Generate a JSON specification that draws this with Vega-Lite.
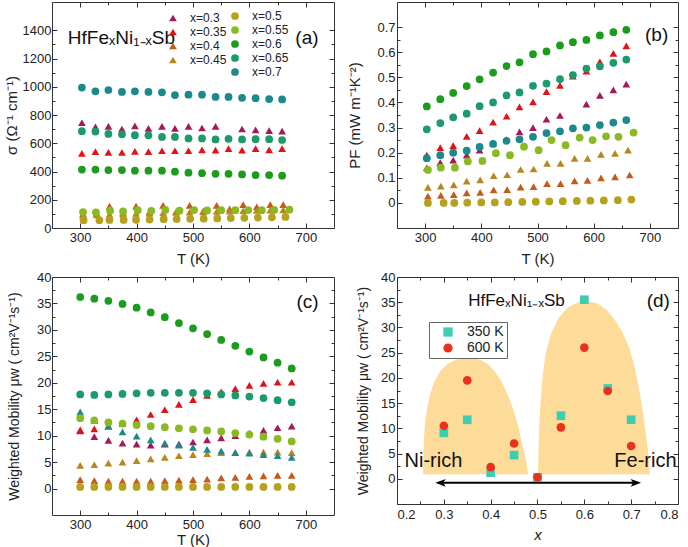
{
  "$schema": "https://vega.github.io/schema/vega-lite/v6.json",
  "padding": {"left": 3, "top": 1, "right": 0, "bottom": 0},
  "background": "white",
  "spacing": 3,
  "config": {
    "font": "Liberation Sans",
    "view": {"stroke": "#333", "strokeWidth": 1},
    "axis": {"domain": false, "grid": false, "labelFont": "Liberation Sans", "labelFontSize": 13, "labelColor": "#222", "titleFont": "Liberation Sans", "titleFontSize": 15, "titleFontWeight": "normal", "titleColor": "#222", "tickColor": "#333", "tickWidth": 1},
    "legend": {"labelFont": "Liberation Sans", "labelColor": "#222"},
    "text": {"font": "Liberation Sans", "color": "#111"}
  },
  "datasets": {
    "sig": [
      {"s":"0.3","T":303,"v":745},{"s":"0.3","T":327,"v":716},{"s":"0.3","T":350,"v":719},{"s":"0.3","T":374,"v":701},{"s":"0.3","T":397,"v":723},{"s":"0.3","T":421,"v":705},{"s":"0.3","T":445,"v":719},{"s":"0.3","T":468,"v":705},{"s":"0.3","T":492,"v":719},{"s":"0.3","T":516,"v":708},{"s":"0.3","T":540,"v":719},{"s":"0.3","T":587,"v":701},{"s":"0.3","T":611,"v":694},{"s":"0.3","T":635,"v":690},{"s":"0.3","T":658,"v":686},
      {"s":"0.35","T":303,"v":529},{"s":"0.35","T":327,"v":540},{"s":"0.35","T":350,"v":536},{"s":"0.35","T":374,"v":536},{"s":"0.35","T":397,"v":542},{"s":"0.35","T":421,"v":540},{"s":"0.35","T":445,"v":547},{"s":"0.35","T":468,"v":547},{"s":"0.35","T":492,"v":547},{"s":"0.35","T":516,"v":553},{"s":"0.35","T":540,"v":551},{"s":"0.35","T":563,"v":562},{"s":"0.35","T":587,"v":551},{"s":"0.35","T":611,"v":562},{"s":"0.35","T":635,"v":553},{"s":"0.35","T":658,"v":562},
      {"s":"0.4","T":305,"v":100},{"s":"0.4","T":329,"v":105},{"s":"0.4","T":352,"v":155},{"s":"0.4","T":376,"v":110},{"s":"0.4","T":399,"v":155},{"s":"0.4","T":423,"v":115},{"s":"0.4","T":447,"v":160},{"s":"0.4","T":470,"v":115},{"s":"0.4","T":494,"v":160},{"s":"0.4","T":518,"v":120},{"s":"0.4","T":542,"v":160},{"s":"0.4","T":565,"v":135},{"s":"0.4","T":589,"v":165},{"s":"0.4","T":613,"v":150},{"s":"0.4","T":637,"v":165},{"s":"0.4","T":660,"v":165},
      {"s":"0.45","T":305,"v":88},{"s":"0.45","T":329,"v":92},{"s":"0.45","T":352,"v":98},{"s":"0.45","T":376,"v":100},{"s":"0.45","T":399,"v":104},{"s":"0.45","T":423,"v":106},{"s":"0.45","T":447,"v":108},{"s":"0.45","T":470,"v":110},{"s":"0.45","T":494,"v":112},{"s":"0.45","T":518,"v":114},{"s":"0.45","T":542,"v":118},{"s":"0.45","T":565,"v":120},{"s":"0.45","T":589,"v":122},{"s":"0.45","T":613,"v":124},{"s":"0.45","T":637,"v":126},{"s":"0.45","T":660,"v":128},
      {"s":"0.5","T":306,"v":55},{"s":"0.5","T":334,"v":55},{"s":"0.5","T":352,"v":57},{"s":"0.5","T":377,"v":57},{"s":"0.5","T":399,"v":58},{"s":"0.5","T":423,"v":60},{"s":"0.5","T":448,"v":62},{"s":"0.5","T":471,"v":63},{"s":"0.5","T":495,"v":65},{"s":"0.5","T":519,"v":66},{"s":"0.5","T":543,"v":68},{"s":"0.5","T":567,"v":70},{"s":"0.5","T":591,"v":72},{"s":"0.5","T":615,"v":74},{"s":"0.5","T":640,"v":76},{"s":"0.5","T":664,"v":78},
      {"s":"0.55","T":305,"v":113},{"s":"0.55","T":328,"v":111},{"s":"0.55","T":353,"v":123},{"s":"0.55","T":376,"v":117},{"s":"0.55","T":402,"v":126},{"s":"0.55","T":426,"v":122},{"s":"0.55","T":451,"v":128},{"s":"0.55","T":476,"v":123},{"s":"0.55","T":502,"v":127},{"s":"0.55","T":525,"v":124},{"s":"0.55","T":550,"v":126},{"s":"0.55","T":575,"v":126},{"s":"0.55","T":598,"v":127},{"s":"0.55","T":622,"v":126},{"s":"0.55","T":644,"v":128},{"s":"0.55","T":671,"v":130},
      {"s":"0.6","T":303,"v":414},{"s":"0.6","T":327,"v":414},{"s":"0.6","T":350,"v":410},{"s":"0.6","T":374,"v":410},{"s":"0.6","T":397,"v":406},{"s":"0.6","T":421,"v":406},{"s":"0.6","T":445,"v":406},{"s":"0.6","T":468,"v":399},{"s":"0.6","T":492,"v":392},{"s":"0.6","T":516,"v":388},{"s":"0.6","T":540,"v":384},{"s":"0.6","T":563,"v":384},{"s":"0.6","T":587,"v":379},{"s":"0.6","T":611,"v":375},{"s":"0.6","T":635,"v":375},{"s":"0.6","T":658,"v":370},
      {"s":"0.65","T":303,"v":685},{"s":"0.65","T":327,"v":683},{"s":"0.65","T":350,"v":666},{"s":"0.65","T":374,"v":663},{"s":"0.65","T":397,"v":657},{"s":"0.65","T":421,"v":656},{"s":"0.65","T":445,"v":645},{"s":"0.65","T":468,"v":645},{"s":"0.65","T":492,"v":634},{"s":"0.65","T":516,"v":634},{"s":"0.65","T":540,"v":627},{"s":"0.65","T":563,"v":631},{"s":"0.65","T":587,"v":627},{"s":"0.65","T":611,"v":629},{"s":"0.65","T":635,"v":629},{"s":"0.65","T":658,"v":623},
      {"s":"0.7","T":303,"v":994},{"s":"0.7","T":327,"v":968},{"s":"0.7","T":350,"v":977},{"s":"0.7","T":374,"v":963},{"s":"0.7","T":397,"v":968},{"s":"0.7","T":421,"v":963},{"s":"0.7","T":445,"v":961},{"s":"0.7","T":468,"v":941},{"s":"0.7","T":492,"v":944},{"s":"0.7","T":516,"v":944},{"s":"0.7","T":540,"v":928},{"s":"0.7","T":563,"v":928},{"s":"0.7","T":587,"v":922},{"s":"0.7","T":611,"v":919},{"s":"0.7","T":635,"v":913},{"s":"0.7","T":658,"v":910}
    ],
    "pf": [
      {"s":"0.3","T":303,"v":0.140},{"s":"0.3","T":327,"v":0.160},{"s":"0.3","T":350,"v":0.170},{"s":"0.3","T":374,"v":0.190},{"s":"0.3","T":397,"v":0.210},{"s":"0.3","T":421,"v":0.238},{"s":"0.3","T":445,"v":0.252},{"s":"0.3","T":468,"v":0.283},{"s":"0.3","T":492,"v":0.300},{"s":"0.3","T":516,"v":0.333},{"s":"0.3","T":540,"v":0.348},{"s":"0.3","T":587,"v":0.393},{"s":"0.3","T":611,"v":0.428},{"s":"0.3","T":635,"v":0.450},{"s":"0.3","T":658,"v":0.473},
      {"s":"0.35","T":303,"v":0.190},{"s":"0.35","T":327,"v":0.220},{"s":"0.35","T":350,"v":0.228},{"s":"0.35","T":374,"v":0.265},{"s":"0.35","T":397,"v":0.288},{"s":"0.35","T":421,"v":0.322},{"s":"0.35","T":445,"v":0.345},{"s":"0.35","T":468,"v":0.382},{"s":"0.35","T":492,"v":0.402},{"s":"0.35","T":516,"v":0.443},{"s":"0.35","T":540,"v":0.468},{"s":"0.35","T":563,"v":0.505},{"s":"0.35","T":587,"v":0.525},{"s":"0.35","T":611,"v":0.562},{"s":"0.35","T":635,"v":0.595},{"s":"0.35","T":658,"v":0.625},
      {"s":"0.4","T":305,"v":0.027},{"s":"0.4","T":328,"v":0.030},{"s":"0.4","T":351,"v":0.033},{"s":"0.4","T":374,"v":0.040},{"s":"0.4","T":398,"v":0.042},{"s":"0.4","T":422,"v":0.052},{"s":"0.4","T":446,"v":0.053},{"s":"0.4","T":470,"v":0.063},{"s":"0.4","T":493,"v":0.065},{"s":"0.4","T":517,"v":0.077},{"s":"0.4","T":541,"v":0.077},{"s":"0.4","T":566,"v":0.088},{"s":"0.4","T":589,"v":0.090},{"s":"0.4","T":613,"v":0.100},{"s":"0.4","T":638,"v":0.104},{"s":"0.4","T":664,"v":0.111},
      {"s":"0.45","T":305,"v":0.062},{"s":"0.45","T":328,"v":0.067},{"s":"0.45","T":351,"v":0.072},{"s":"0.45","T":374,"v":0.087},{"s":"0.45","T":398,"v":0.092},{"s":"0.45","T":422,"v":0.108},{"s":"0.45","T":446,"v":0.112},{"s":"0.45","T":470,"v":0.133},{"s":"0.45","T":493,"v":0.135},{"s":"0.45","T":517,"v":0.157},{"s":"0.45","T":541,"v":0.157},{"s":"0.45","T":566,"v":0.177},{"s":"0.45","T":589,"v":0.177},{"s":"0.45","T":613,"v":0.193},{"s":"0.45","T":638,"v":0.197},{"s":"0.45","T":661,"v":0.210},
      {"s":"0.5","T":305,"v":0.000},{"s":"0.5","T":333,"v":0.000},{"s":"0.5","T":352,"v":0.000},{"s":"0.5","T":375,"v":0.001},{"s":"0.5","T":400,"v":0.002},{"s":"0.5","T":424,"v":0.002},{"s":"0.5","T":448,"v":0.003},{"s":"0.5","T":473,"v":0.004},{"s":"0.5","T":497,"v":0.005},{"s":"0.5","T":521,"v":0.006},{"s":"0.5","T":545,"v":0.007},{"s":"0.5","T":570,"v":0.008},{"s":"0.5","T":594,"v":0.009},{"s":"0.5","T":618,"v":0.010},{"s":"0.5","T":643,"v":0.011},{"s":"0.5","T":667,"v":0.013},
      {"s":"0.55","T":305,"v":0.131},{"s":"0.55","T":328,"v":0.140},{"s":"0.55","T":353,"v":0.140},{"s":"0.55","T":376,"v":0.165},{"s":"0.55","T":402,"v":0.167},{"s":"0.55","T":426,"v":0.198},{"s":"0.55","T":451,"v":0.190},{"s":"0.55","T":476,"v":0.224},{"s":"0.55","T":502,"v":0.210},{"s":"0.55","T":525,"v":0.250},{"s":"0.55","T":550,"v":0.230},{"s":"0.55","T":575,"v":0.260},{"s":"0.55","T":598,"v":0.250},{"s":"0.55","T":622,"v":0.265},{"s":"0.55","T":644,"v":0.263},{"s":"0.55","T":671,"v":0.280},
      {"s":"0.6","T":303,"v":0.384},{"s":"0.6","T":327,"v":0.413},{"s":"0.6","T":350,"v":0.438},{"s":"0.6","T":374,"v":0.465},{"s":"0.6","T":397,"v":0.492},{"s":"0.6","T":421,"v":0.519},{"s":"0.6","T":445,"v":0.545},{"s":"0.6","T":468,"v":0.560},{"s":"0.6","T":492,"v":0.592},{"s":"0.6","T":516,"v":0.603},{"s":"0.6","T":540,"v":0.627},{"s":"0.6","T":563,"v":0.640},{"s":"0.6","T":587,"v":0.649},{"s":"0.6","T":611,"v":0.667},{"s":"0.6","T":635,"v":0.680},{"s":"0.6","T":658,"v":0.689},
      {"s":"0.65","T":303,"v":0.293},{"s":"0.65","T":327,"v":0.318},{"s":"0.65","T":350,"v":0.341},{"s":"0.65","T":374,"v":0.355},{"s":"0.65","T":397,"v":0.385},{"s":"0.65","T":421,"v":0.400},{"s":"0.65","T":445,"v":0.428},{"s":"0.65","T":468,"v":0.440},{"s":"0.65","T":492,"v":0.466},{"s":"0.65","T":516,"v":0.475},{"s":"0.65","T":540,"v":0.493},{"s":"0.65","T":563,"v":0.509},{"s":"0.65","T":587,"v":0.535},{"s":"0.65","T":611,"v":0.544},{"s":"0.65","T":635,"v":0.558},{"s":"0.65","T":658,"v":0.571},
      {"s":"0.7","T":303,"v":0.178},{"s":"0.7","T":327,"v":0.190},{"s":"0.7","T":350,"v":0.200},{"s":"0.7","T":374,"v":0.208},{"s":"0.7","T":397,"v":0.223},{"s":"0.7","T":421,"v":0.235},{"s":"0.7","T":445,"v":0.247},{"s":"0.7","T":468,"v":0.253},{"s":"0.7","T":492,"v":0.263},{"s":"0.7","T":516,"v":0.278},{"s":"0.7","T":540,"v":0.285},{"s":"0.7","T":563,"v":0.297},{"s":"0.7","T":587,"v":0.300},{"s":"0.7","T":611,"v":0.310},{"s":"0.7","T":635,"v":0.320},{"s":"0.7","T":658,"v":0.330}
    ],
    "mu": [
      {"s":"0.3","T":300,"v":10.9},{"s":"0.3","T":325,"v":9.8},{"s":"0.3","T":350,"v":9.1},{"s":"0.3","T":375,"v":8.6},{"s":"0.3","T":400,"v":8.4},{"s":"0.3","T":425,"v":8.2},{"s":"0.3","T":450,"v":8.4},{"s":"0.3","T":475,"v":8.4},{"s":"0.3","T":500,"v":8.8},{"s":"0.3","T":525,"v":9.2},{"s":"0.3","T":550,"v":9.6},{"s":"0.3","T":575,"v":10.0},{"s":"0.3","T":600,"v":10.5},{"s":"0.3","T":625,"v":11.0},{"s":"0.3","T":650,"v":11.5},{"s":"0.3","T":675,"v":11.8},
      {"s":"0.35","T":300,"v":11.1},{"s":"0.35","T":325,"v":11.3},{"s":"0.35","T":350,"v":11.8},{"s":"0.35","T":375,"v":12.3},{"s":"0.35","T":400,"v":13.0},{"s":"0.35","T":425,"v":14.0},{"s":"0.35","T":450,"v":14.9},{"s":"0.35","T":475,"v":15.9},{"s":"0.35","T":500,"v":16.8},{"s":"0.35","T":525,"v":17.6},{"s":"0.35","T":550,"v":18.3},{"s":"0.35","T":575,"v":18.9},{"s":"0.35","T":600,"v":19.5},{"s":"0.35","T":625,"v":19.9},{"s":"0.35","T":650,"v":20.1},{"s":"0.35","T":675,"v":20.1},
      {"s":"0.4","T":300,"v":1.7},{"s":"0.4","T":325,"v":1.5},{"s":"0.4","T":350,"v":1.4},{"s":"0.4","T":375,"v":1.4},{"s":"0.4","T":400,"v":1.4},{"s":"0.4","T":425,"v":1.4},{"s":"0.4","T":450,"v":1.5},{"s":"0.4","T":475,"v":1.6},{"s":"0.4","T":500,"v":1.7},{"s":"0.4","T":525,"v":1.8},{"s":"0.4","T":550,"v":2.0},{"s":"0.4","T":575,"v":2.1},{"s":"0.4","T":600,"v":2.3},{"s":"0.4","T":625,"v":2.4},{"s":"0.4","T":650,"v":2.5},{"s":"0.4","T":675,"v":2.5},
      {"s":"0.45","T":300,"v":4.4},{"s":"0.45","T":325,"v":4.5},{"s":"0.45","T":350,"v":4.8},{"s":"0.45","T":375,"v":5.0},{"s":"0.45","T":400,"v":5.3},{"s":"0.45","T":425,"v":5.6},{"s":"0.45","T":450,"v":5.9},{"s":"0.45","T":475,"v":6.2},{"s":"0.45","T":500,"v":6.4},{"s":"0.45","T":525,"v":6.6},{"s":"0.45","T":550,"v":6.8},{"s":"0.45","T":575,"v":6.8},{"s":"0.45","T":600,"v":6.9},{"s":"0.45","T":625,"v":6.9},{"s":"0.45","T":650,"v":6.9},{"s":"0.45","T":675,"v":6.8},
      {"s":"0.5","T":300,"v":0.3},{"s":"0.5","T":325,"v":0.3},{"s":"0.5","T":350,"v":0.3},{"s":"0.5","T":375,"v":0.3},{"s":"0.5","T":400,"v":0.3},{"s":"0.5","T":425,"v":0.3},{"s":"0.5","T":450,"v":0.3},{"s":"0.5","T":475,"v":0.3},{"s":"0.5","T":500,"v":0.3},{"s":"0.5","T":525,"v":0.3},{"s":"0.5","T":550,"v":0.3},{"s":"0.5","T":575,"v":0.3},{"s":"0.5","T":600,"v":0.3},{"s":"0.5","T":625,"v":0.3},{"s":"0.5","T":650,"v":0.3},{"s":"0.5","T":675,"v":0.3},
      {"s":"0.55","T":300,"v":13.3},{"s":"0.55","T":325,"v":12.9},{"s":"0.55","T":350,"v":12.5},{"s":"0.55","T":375,"v":12.3},{"s":"0.55","T":400,"v":12.0},{"s":"0.55","T":425,"v":11.8},{"s":"0.55","T":450,"v":11.6},{"s":"0.55","T":475,"v":11.4},{"s":"0.55","T":500,"v":11.2},{"s":"0.55","T":525,"v":11.0},{"s":"0.55","T":550,"v":10.8},{"s":"0.55","T":575,"v":10.5},{"s":"0.55","T":600,"v":10.2},{"s":"0.55","T":625,"v":9.8},{"s":"0.55","T":650,"v":9.4},{"s":"0.55","T":675,"v":8.9},
      {"s":"0.6","T":300,"v":36.2},{"s":"0.6","T":325,"v":35.9},{"s":"0.6","T":350,"v":35.5},{"s":"0.6","T":375,"v":34.9},{"s":"0.6","T":400,"v":34.2},{"s":"0.6","T":425,"v":33.3},{"s":"0.6","T":450,"v":32.4},{"s":"0.6","T":475,"v":31.3},{"s":"0.6","T":500,"v":30.3},{"s":"0.6","T":525,"v":29.2},{"s":"0.6","T":550,"v":28.1},{"s":"0.6","T":575,"v":27.0},{"s":"0.6","T":600,"v":25.9},{"s":"0.6","T":625,"v":24.8},{"s":"0.6","T":650,"v":23.8},{"s":"0.6","T":675,"v":22.7},
      {"s":"0.65","T":300,"v":17.8},{"s":"0.65","T":325,"v":17.7},{"s":"0.65","T":350,"v":17.8},{"s":"0.65","T":375,"v":17.9},{"s":"0.65","T":400,"v":18.0},{"s":"0.65","T":425,"v":18.1},{"s":"0.65","T":450,"v":18.1},{"s":"0.65","T":475,"v":18.1},{"s":"0.65","T":500,"v":18.1},{"s":"0.65","T":525,"v":18.0},{"s":"0.65","T":550,"v":17.8},{"s":"0.65","T":575,"v":17.6},{"s":"0.65","T":600,"v":17.4},{"s":"0.65","T":625,"v":17.1},{"s":"0.65","T":650,"v":16.7},{"s":"0.65","T":675,"v":16.3},
      {"s":"0.7","T":300,"v":14.5},{"s":"0.7","T":325,"v":12.9},{"s":"0.7","T":350,"v":11.8},{"s":"0.7","T":375,"v":10.7},{"s":"0.7","T":400,"v":9.9},{"s":"0.7","T":425,"v":9.2},{"s":"0.7","T":450,"v":8.6},{"s":"0.7","T":475,"v":8.2},{"s":"0.7","T":500,"v":7.8},{"s":"0.7","T":525,"v":7.4},{"s":"0.7","T":550,"v":7.1},{"s":"0.7","T":575,"v":6.8},{"s":"0.7","T":600,"v":6.7},{"s":"0.7","T":625,"v":6.4},{"s":"0.7","T":650,"v":6.2},{"s":"0.7","T":675,"v":5.9}
    ],
    "dxy": [
      {"x":0.3,"K":"350 K","mu":9.1},{"x":0.35,"K":"350 K","mu":11.7},{"x":0.4,"K":"350 K","mu":1.2},{"x":0.45,"K":"350 K","mu":4.7},{"x":0.5,"K":"350 K","mu":0.3},{"x":0.55,"K":"350 K","mu":12.5},{"x":0.6,"K":"350 K","mu":35.5},{"x":0.65,"K":"350 K","mu":17.9},{"x":0.7,"K":"350 K","mu":11.7},
      {"x":0.3,"K":"600 K","mu":10.5},{"x":0.35,"K":"600 K","mu":19.5},{"x":0.4,"K":"600 K","mu":2.3},{"x":0.45,"K":"600 K","mu":7.0},{"x":0.5,"K":"600 K","mu":0.3},{"x":0.55,"K":"600 K","mu":10.2},{"x":0.6,"K":"600 K","mu":26.0},{"x":0.65,"K":"600 K","mu":17.4},{"x":0.7,"K":"600 K","mu":6.5}
    ],
    "dome": [
      {"g":"Ni","x":0.2556,"y":1},{"g":"Ni","x":0.2563,"y":4},{"g":"Ni","x":0.2577,"y":8},{"g":"Ni","x":0.2598,"y":11},{"g":"Ni","x":0.2641,"y":14},{"g":"Ni","x":0.2712,"y":17},{"g":"Ni","x":0.2812,"y":19.6},{"g":"Ni","x":0.294,"y":21.5},{"g":"Ni","x":0.3083,"y":22.8},{"g":"Ni","x":0.3254,"y":23.6},{"g":"Ni","x":0.3446,"y":24.0},{"g":"Ni","x":0.3624,"y":24.0},{"g":"Ni","x":0.3802,"y":23.5},{"g":"Ni","x":0.3959,"y":22.6},{"g":"Ni","x":0.4108,"y":21},{"g":"Ni","x":0.4251,"y":19},{"g":"Ni","x":0.4372,"y":16.5},{"g":"Ni","x":0.4493,"y":13.5},{"g":"Ni","x":0.4585,"y":10.5},{"g":"Ni","x":0.4671,"y":7},{"g":"Ni","x":0.4749,"y":4},{"g":"Ni","x":0.4799,"y":1},
      {"g":"Fe","x":0.5013,"y":0.8},{"g":"Fe","x":0.502,"y":5},{"g":"Fe","x":0.5034,"y":10},{"g":"Fe","x":0.5063,"y":15},{"g":"Fe","x":0.5105,"y":20},{"g":"Fe","x":0.5177,"y":25},{"g":"Fe","x":0.5298,"y":29},{"g":"Fe","x":0.5462,"y":32},{"g":"Fe","x":0.5654,"y":34},{"g":"Fe","x":0.5868,"y":35},{"g":"Fe","x":0.6081,"y":35.2},{"g":"Fe","x":0.6274,"y":34.8},{"g":"Fe","x":0.6473,"y":33.5},{"g":"Fe","x":0.6651,"y":31.5},{"g":"Fe","x":0.6815,"y":29},{"g":"Fe","x":0.6957,"y":26},{"g":"Fe","x":0.7078,"y":22},{"g":"Fe","x":0.7185,"y":17},{"g":"Fe","x":0.7271,"y":12},{"g":"Fe","x":0.7342,"y":7},{"g":"Fe","x":0.7385,"y":3},{"g":"Fe","x":0.7399,"y":0.8}
    ]
  },
  "resolve": {"scale": {"color": "independent", "shape": "independent"}, "legend": {"color": "independent", "shape": "independent"}},
  "vconcat": [
    {
      "bounds": "flush",
      "spacing": 63,
      "resolve": {"scale": {"color": "independent", "shape": "independent"}, "legend": {"color": "independent", "shape": "independent"}},
      "hconcat": [
        {
          "width": 282, "height": 226,
          "layer": [
            {
              "data": {"name": "sig"},
              "transform": [{"filter": {"field": "s", "oneOf": ["0.3","0.35","0.4","0.45"]}}],
              "mark": {"type": "point", "shape": "triangle-up", "filled": true, "size": 60, "opacity": 1},
              "encoding": {
                "x": {"field": "T", "type": "quantitative", "scale": {"domain": [250, 750]}, "axis": {"orient": "bottom", "title": "T (K)", "values": [300,350,400,450,500,550,600,650,700], "format": "d", "labelExpr": "datum.value % 100 === 0 ? datum.label : ''", "tickSize": {"condition": {"test": "datum.value % 100 === 0", "value": -5}, "value": -3}, "labelPadding": 8, "titlePadding": 7}},
                "y": {"field": "v", "type": "quantitative", "scale": {"domain": [0, 1500]}, "axis": {"orient": "left", "title": "σ (Ω⁻¹ cm⁻¹)", "values": [0,100,200,300,400,500,600,700,800,900,1000,1100,1200,1300,1400], "format": "d", "labelExpr": "datum.value % 200 === 0 ? datum.label : ''", "tickSize": {"condition": {"test": "datum.value % 200 === 0", "value": -5}, "value": -3}, "labelPadding": 6, "titlePadding": 3}},
                "color": {"field": "s", "type": "nominal", "scale": {"domain": ["0.3","0.35","0.4","0.45"], "range": ["#a3195b","#e0131b","#c45a1c","#b8861f"]}, "legend": {"title": null, "orient": "none", "legendX": 115, "legendY": 10, "labelExpr": "'x=' + datum.label", "labelFontSize": 12, "symbolSize": 60, "rowPadding": 2, "labelOffset": 11, "padding": 0}}
              }
            },
            {
              "data": {"name": "sig"},
              "transform": [{"filter": {"field": "s", "oneOf": ["0.5","0.55","0.6","0.65","0.7"]}}],
              "mark": {"type": "circle", "size": 60, "opacity": 1},
              "encoding": {
                "x": {"field": "T", "type": "quantitative", "axis": null},
                "y": {"field": "v", "type": "quantitative", "axis": null},
                "color": {"field": "s", "type": "nominal", "scale": {"domain": ["0.5","0.55","0.6","0.65","0.7"], "range": ["#b5a21c","#8aba21","#1c9c1c","#1c9a6c","#1c8a8c"]}, "legend": {"title": null, "orient": "none", "legendX": 177, "legendY": 8, "labelExpr": "'x=' + datum.label", "labelFontSize": 12, "symbolSize": 60, "rowPadding": 2, "labelOffset": 11, "padding": 0}}
              }
            },
            {
              "data": {"values": [{}]},
              "mark": {"type": "text", "text": "HfFeₓNi₁₋ₓSb", "align": "left", "baseline": "middle", "fontSize": 19},
              "encoding": {"x": {"datum": 278, "type": "quantitative", "axis": null}, "y": {"datum": 1345, "type": "quantitative", "axis": null}}
            },
            {
              "data": {"values": [{}]},
              "mark": {"type": "text", "text": "(a)", "align": "center", "baseline": "middle", "fontSize": 19},
              "encoding": {"x": {"datum": 702, "type": "quantitative", "axis": null}, "y": {"datum": 1345, "type": "quantitative", "axis": null}}
            },
            {
              "data": {"name": "sig"},
              "mark": {"type": "point", "opacity": 0},
              "encoding": {
                "x": {"field": "T", "type": "quantitative", "axis": {"orient": "top", "title": null, "labels": false, "values": [300,350,400,450,500,550,600,650,700], "tickSize": {"condition": {"test": "datum.value % 100 === 0", "value": -5}, "value": -3}}},
                "y": {"field": "v", "type": "quantitative", "axis": {"orient": "right", "title": null, "labels": false, "values": [0,100,200,300,400,500,600,700,800,900,1000,1100,1200,1300,1400], "tickSize": {"condition": {"test": "datum.value % 200 === 0", "value": -5}, "value": -3}}}
              }
            }
          ],
          "resolve": {"scale": {"color": "independent"}, "legend": {"color": "independent"}, "axis": {"x": "independent", "y": "independent"}}
        },
        {
          "width": 281, "height": 226,
          "layer": [
            {
              "data": {"name": "pf"},
              "transform": [{"filter": {"field": "s", "oneOf": ["0.3","0.35","0.4","0.45"]}}],
              "mark": {"type": "point", "shape": "triangle-up", "filled": true, "size": 60, "opacity": 1},
              "encoding": {
                "x": {"field": "T", "type": "quantitative", "scale": {"domain": [250, 750]}, "axis": {"orient": "bottom", "title": "T (K)", "values": [300,350,400,450,500,550,600,650,700], "format": "d", "labelExpr": "datum.value % 100 === 0 ? datum.label : ''", "tickSize": {"condition": {"test": "datum.value % 100 === 0", "value": -5}, "value": -3}, "labelPadding": 8, "titlePadding": 7}},
                "y": {"field": "v", "type": "quantitative", "scale": {"domain": [-0.05, 0.75]}, "axis": {"orient": "left", "title": "PF (mW m⁻¹K⁻²)", "values": [0,0.05,0.1,0.15,0.2,0.25,0.3,0.35,0.4,0.45,0.5,0.55,0.6,0.65,0.7], "format": "~g", "labelExpr": "round(datum.value*100) % 10 === 0 ? datum.label : ''", "tickSize": {"condition": {"test": "round(datum.value*100) % 10 === 0", "value": -5}, "value": -3}, "labelPadding": 7, "titlePadding": 14}},
                "color": {"field": "s", "type": "nominal", "scale": {"domain": ["0.3","0.35","0.4","0.45"], "range": ["#a3195b","#e0131b","#c45a1c","#b8861f"]}, "legend": null}
              }
            },
            {
              "data": {"name": "pf"},
              "transform": [{"filter": {"field": "s", "oneOf": ["0.5","0.55","0.6","0.65","0.7"]}}],
              "mark": {"type": "circle", "size": 60, "opacity": 1},
              "encoding": {
                "x": {"field": "T", "type": "quantitative", "axis": null},
                "y": {"field": "v", "type": "quantitative", "axis": null},
                "color": {"field": "s", "type": "nominal", "scale": {"domain": ["0.5","0.55","0.6","0.65","0.7"], "range": ["#b5a21c","#8aba21","#1c9c1c","#1c9a6c","#1c8a8c"]}, "legend": null}
              }
            },
            {
              "data": {"values": [{}]},
              "mark": {"type": "text", "text": "(b)", "align": "center", "baseline": "middle", "fontSize": 19},
              "encoding": {"x": {"datum": 712, "type": "quantitative", "axis": null}, "y": {"datum": 0.668, "type": "quantitative", "axis": null}}
            },
            {
              "data": {"name": "pf"},
              "mark": {"type": "point", "opacity": 0},
              "encoding": {
                "x": {"field": "T", "type": "quantitative", "axis": {"orient": "top", "title": null, "labels": false, "values": [300,350,400,450,500,550,600,650,700], "tickSize": {"condition": {"test": "datum.value % 100 === 0", "value": -5}, "value": -3}}},
                "y": {"field": "v", "type": "quantitative", "axis": {"orient": "right", "title": null, "labels": false, "values": [0,0.05,0.1,0.15,0.2,0.25,0.3,0.35,0.4,0.45,0.5,0.55,0.6,0.65,0.7], "tickSize": {"condition": {"test": "round(datum.value*100) % 10 === 0", "value": -5}, "value": -3}}}
              }
            }
          ],
          "resolve": {"scale": {"color": "independent"}, "legend": {"color": "independent"}, "axis": {"x": "independent", "y": "independent"}}
        }
      ]
    },
    {
      "bounds": "flush",
      "spacing": 63,
      "resolve": {"scale": {"color": "independent", "shape": "independent"}, "legend": {"color": "independent", "shape": "independent"}},
      "hconcat": [
        {
          "width": 282, "height": 238,
          "layer": [
            {
              "data": {"name": "mu"},
              "transform": [{"filter": {"field": "s", "oneOf": ["0.3","0.35","0.4","0.45","0.7"]}}],
              "mark": {"type": "point", "shape": "triangle-up", "filled": true, "size": 60, "opacity": 1},
              "encoding": {
                "x": {"field": "T", "type": "quantitative", "scale": {"domain": [250, 750]}, "axis": {"orient": "bottom", "title": "T (K)", "values": [300,350,400,450,500,550,600,650,700], "format": "d", "labelExpr": "datum.value % 100 === 0 ? datum.label : ''", "tickSize": {"condition": {"test": "datum.value % 100 === 0", "value": -5}, "value": -3}, "labelPadding": 8, "titlePadding": 1}},
                "y": {"field": "v", "type": "quantitative", "scale": {"domain": [-2, 40]}, "axis": {"orient": "left", "title": "Weighted Mobility μw ( cm²V⁻¹s⁻¹)", "values": [0,2.5,5,7.5,10,12.5,15,17.5,20,22.5,25,27.5,30,32.5,35,37.5,40], "format": "~g", "labelExpr": "datum.value % 5 === 0 ? datum.label : ''", "tickSize": {"condition": {"test": "datum.value % 5 === 0", "value": -5}, "value": -3}, "labelPadding": 6, "titlePadding": 15, "titleFontSize": 14}},
                "color": {"field": "s", "type": "nominal", "scale": {"domain": ["0.3","0.35","0.4","0.45","0.7"], "range": ["#a3195b","#e0131b","#c45a1c","#b8861f","#1c8a8c"]}, "legend": null}
              }
            },
            {
              "data": {"name": "mu"},
              "transform": [{"filter": {"field": "s", "oneOf": ["0.5","0.55","0.6","0.65"]}}],
              "mark": {"type": "circle", "size": 60, "opacity": 1},
              "encoding": {
                "x": {"field": "T", "type": "quantitative", "axis": null},
                "y": {"field": "v", "type": "quantitative", "axis": null},
                "color": {"field": "s", "type": "nominal", "scale": {"domain": ["0.5","0.55","0.6","0.65"], "range": ["#b5a21c","#8aba21","#1c9c1c","#1c9a6c"]}, "legend": null}
              }
            },
            {
              "data": {"values": [{}]},
              "mark": {"type": "text", "text": "(c)", "align": "center", "baseline": "middle", "fontSize": 19},
              "encoding": {"x": {"datum": 703, "type": "quantitative", "axis": null}, "y": {"datum": 35.3, "type": "quantitative", "axis": null}}
            },
            {
              "data": {"name": "mu"},
              "mark": {"type": "point", "opacity": 0},
              "encoding": {
                "x": {"field": "T", "type": "quantitative", "axis": {"orient": "top", "title": null, "labels": false, "values": [300,350,400,450,500,550,600,650,700], "tickSize": {"condition": {"test": "datum.value % 100 === 0", "value": -5}, "value": -3}}},
                "y": {"field": "v", "type": "quantitative", "axis": {"orient": "right", "title": null, "labels": false, "values": [0,2.5,5,7.5,10,12.5,15,17.5,20,22.5,25,27.5,30,32.5,35,37.5], "tickSize": {"condition": {"test": "datum.value % 5 === 0", "value": -5}, "value": -3}}}
              }
            }
          ],
          "resolve": {"scale": {"color": "independent"}, "legend": {"color": "independent"}, "axis": {"x": "independent", "y": "independent"}}
        },
        {
          "width": 281, "height": 227,
          "layer": [
            {
              "data": {"name": "dome"},
              "mark": {"type": "area", "color": "#fcdc98", "opacity": 1},
              "encoding": {
                "x": {"field": "x", "type": "quantitative", "scale": {"domain": [0.2, 0.8]}, "axis": {"orient": "bottom", "title": "x", "titleFontStyle": "italic", "values": [0.2,0.25,0.3,0.35,0.4,0.45,0.5,0.55,0.6,0.65,0.7,0.75,0.8], "format": "~g", "labelExpr": "round(datum.value*100) % 10 === 0 ? datum.label : ''", "tickSize": {"condition": {"test": "round(datum.value*100) % 10 === 0", "value": -5}, "value": -3}, "labelPadding": 9, "titlePadding": 6}},
                "y": {"field": "y", "type": "quantitative", "scale": {"domain": [-2.5, 40]}, "axis": {"orient": "left", "title": "Weighted Mobility μw ( cm²V⁻¹s⁻¹)", "values": [0,2.5,5,7.5,10,12.5,15,17.5,20,22.5,25,27.5,30,32.5,35,37.5,40], "format": "~g", "labelExpr": "datum.value % 5 === 0 ? datum.label : ''", "tickSize": {"condition": {"test": "datum.value % 5 === 0", "value": -5}, "value": -3}, "labelPadding": 7, "titlePadding": 10, "titleFontSize": 14}},
                "y2": {"datum": 0.9},
                "detail": {"field": "g", "type": "nominal"}
              }
            },
            {
              "data": {"name": "dxy"},
              "mark": {"type": "point", "filled": true, "size": 75, "opacity": 1},
              "encoding": {
                "x": {"field": "x", "type": "quantitative", "axis": null},
                "y": {"field": "mu", "type": "quantitative", "axis": null},
                "shape": {"field": "K", "type": "nominal", "scale": {"domain": ["350 K","600 K"], "range": ["square","circle"]}, "legend": {"title": null, "orient": "none", "legendX": 32, "legendY": 45, "strokeColor": "#666", "fillColor": "white", "padding": 3, "labelFontSize": 14, "symbolSize": 85, "rowPadding": 2, "symbolOffset": 9, "labelOffset": 12}},
                "color": {"field": "K", "type": "nominal", "scale": {"domain": ["350 K","600 K"], "range": ["#3ecdb0","#e8321c"]}, "legend": {"title": null, "orient": "none", "legendX": 32, "legendY": 45, "strokeColor": "#666", "fillColor": "white", "padding": 3, "labelFontSize": 14, "symbolSize": 85, "rowPadding": 2, "symbolOffset": 9, "labelOffset": 12}}
              }
            },
            {
              "data": {"values": [{}]},
              "mark": {"type": "rule", "color": "black", "strokeWidth": 2},
              "encoding": {"x": {"datum": 0.292, "type": "quantitative", "axis": null}, "x2": {"datum": 0.711}, "y": {"datum": -0.8, "type": "quantitative", "axis": null}}
            },
            {
              "data": {"values": [{}]},
              "mark": {"type": "point", "shape": "M-1,0 L1,-0.75 L0.5,0 L1,0.75 Z", "filled": true, "color": "black", "size": 110, "opacity": 1},
              "encoding": {"x": {"datum": 0.293, "type": "quantitative", "axis": null}, "y": {"datum": -0.8, "type": "quantitative", "axis": null}}
            },
            {
              "data": {"values": [{}]},
              "mark": {"type": "point", "shape": "M1,0 L-1,-0.75 L-0.5,0 L-1,0.75 Z", "filled": true, "color": "black", "size": 110, "opacity": 1},
              "encoding": {"x": {"datum": 0.71, "type": "quantitative", "axis": null}, "y": {"datum": -0.8, "type": "quantitative", "axis": null}}
            },
            {
              "data": {"values": [{}]},
              "mark": {"type": "text", "text": "Ni-rich", "align": "left", "baseline": "middle", "fontSize": 20},
              "encoding": {"x": {"datum": 0.216, "type": "quantitative", "axis": null}, "y": {"datum": 3.5, "type": "quantitative", "axis": null}}
            },
            {
              "data": {"values": [{}]},
              "mark": {"type": "text", "text": "Fe-rich", "align": "right", "baseline": "middle", "fontSize": 20},
              "encoding": {"x": {"datum": 0.797, "type": "quantitative", "axis": null}, "y": {"datum": 3.5, "type": "quantitative", "axis": null}}
            },
            {
              "data": {"values": [{}]},
              "mark": {"type": "text", "text": "HfFeₓNi₁₋ₓSb", "align": "left", "baseline": "middle", "fontSize": 17},
              "encoding": {"x": {"datum": 0.352, "type": "quantitative", "axis": null}, "y": {"datum": 35.3, "type": "quantitative", "axis": null}}
            },
            {
              "data": {"values": [{}]},
              "mark": {"type": "text", "text": "(d)", "align": "center", "baseline": "middle", "fontSize": 19},
              "encoding": {"x": {"datum": 0.758, "type": "quantitative", "axis": null}, "y": {"datum": 35.3, "type": "quantitative", "axis": null}}
            },
            {
              "data": {"name": "dxy"},
              "mark": {"type": "point", "opacity": 0},
              "encoding": {
                "x": {"field": "x", "type": "quantitative", "axis": {"orient": "top", "title": null, "labels": false, "values": [0.25,0.3,0.35,0.4,0.45,0.5,0.55,0.6,0.65,0.7,0.75], "tickSize": {"condition": {"test": "round(datum.value*100) % 10 === 0", "value": -5}, "value": -3}}},
                "y": {"field": "mu", "type": "quantitative", "axis": {"orient": "right", "title": null, "labels": false, "values": [0,2.5,5,7.5,10,12.5,15,17.5,20,22.5,25,27.5,30,32.5,35,37.5], "tickSize": {"condition": {"test": "datum.value % 5 === 0", "value": -5}, "value": -3}}}
              }
            }
          ],
          "resolve": {"scale": {"color": "independent", "shape": "independent"}, "legend": {"color": "independent", "shape": "independent"}, "axis": {"x": "independent", "y": "independent"}}
        }
      ]
    }
  ]
}
